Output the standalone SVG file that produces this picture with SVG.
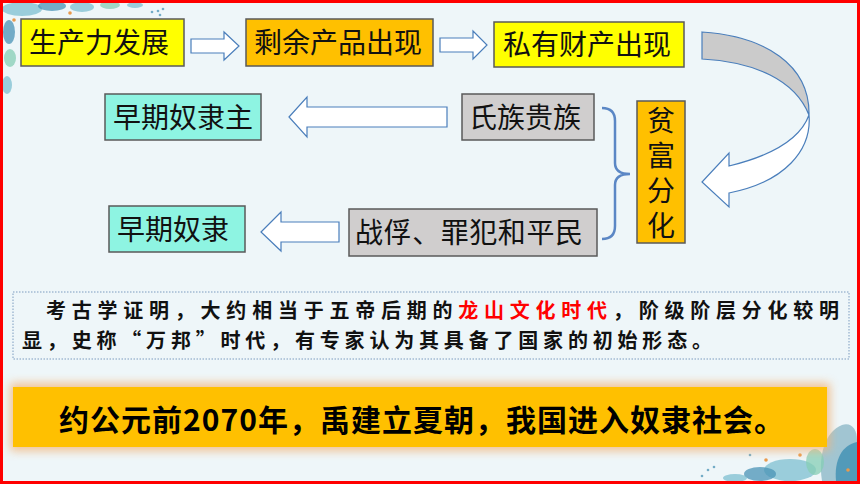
<svg xmlns="http://www.w3.org/2000/svg" width="860" height="484" viewBox="0 0 860 484">
<defs>
<style>
.box{stroke:#5a5a5a;stroke-width:1.5}
.yel{fill:#FFFF00}
.org{fill:#FFC000}
.gry{fill:#D0CECE}
.aqu{fill:#8EF4E2}
.t{font-family:"Noto Sans CJK SC","Noto Sans",sans-serif;font-size:28px;fill:#111}
.arr{fill:#FFFFFF;stroke:#4A7EBB;stroke-width:1.2;stroke-linejoin:miter}
.para{font-family:"Noto Sans CJK SC","Noto Sans",sans-serif;font-size:20px;font-weight:bold;fill:#111}
.leaf{fill:#7DBFD0;opacity:0.75}
.leaf2{fill:#4A93B5;opacity:0.75}
.leaf3{fill:#86CDB4;opacity:0.75}
.dot{fill:#E99A4C}
</style>
<filter id="glow" x="-10%" y="-50%" width="120%" height="200%">
<feGaussianBlur stdDeviation="5"/>
</filter>
</defs>
<rect x="0" y="0" width="860" height="484" fill="#EEF6F9"/>
<g id="decor">
<ellipse cx="22" cy="9" rx="20" ry="7" class="leaf"/>
<ellipse cx="52" cy="6" rx="14" ry="5" class="leaf2"/>
<ellipse cx="82" cy="7" rx="12" ry="5" class="leaf"/>
<ellipse cx="110" cy="5" rx="10" ry="4" class="leaf3"/>
<ellipse cx="135" cy="5" rx="8" ry="3" class="leaf"/>
<ellipse cx="9" cy="32" rx="6" ry="12" class="leaf2"/>
<ellipse cx="10" cy="58" rx="6" ry="9" class="leaf3"/>
<ellipse cx="7" cy="85" rx="5" ry="9" class="leaf"/>
<circle cx="152" cy="12" r="1.3" class="leaf2"/>
<circle cx="158" cy="11" r="1.3" class="leaf2"/>
<circle cx="163" cy="9" r="1.3" class="leaf2"/>
<circle cx="160" cy="15" r="1.3" class="leaf2"/>
<circle cx="14" cy="20" r="1.8" class="dot"/>
<circle cx="70" cy="13" r="1.8" class="dot"/>
<path d="M822,481 C818,455 825,432 842,425 C852,422 857,430 857,440 L857,481 Z" fill="#8DB9C8" opacity="0.8"/>
<path d="M836,481 C834,460 842,445 857,442 L857,481 Z" fill="#3F8FB3" opacity="0.8"/>
<ellipse cx="790" cy="470" rx="26" ry="11" class="leaf"/>
<ellipse cx="760" cy="474" rx="16" ry="7" class="leaf2"/>
<ellipse cx="815" cy="462" rx="9" ry="13" class="leaf3"/>
<ellipse cx="735" cy="478" rx="12" ry="4" class="leaf"/>
<circle cx="766" cy="460" r="1.8" class="dot"/>
<circle cx="800" cy="455" r="1.8" class="dot"/>
<circle cx="848" cy="470" r="1.8" class="dot"/>
<circle cx="708" cy="470" r="1.3" class="leaf2"/>
<circle cx="714" cy="467" r="1.3" class="leaf2"/>
<circle cx="702" cy="476" r="1.3" class="leaf2"/>
<circle cx="750" cy="455" r="1.3" class="leaf2"/>
</g>
<rect x="1.5" y="1.5" width="857" height="481" fill="none" stroke="#FF0000" stroke-width="3"/>
<g id="connectors">
<path class="arr" d="M191,39 L224,39 L224,32 L239,46 L224,60 L224,53 L191,53 Z"/>
<path class="arr" d="M440,38 L473,38 L473,31 L487,45 L473,59 L473,52 L440,52 Z"/>
<path d="M702,32 C765,36 810,65 809,115 C795,80 755,62 702,59 Z" fill="#CBCBCB" stroke="#4A7EBB" stroke-width="1.2"/>
<path class="arr" d="M809,115 C812,150 785,182 729,193 L729,207 L702,182 L729,153 L729,166 C770,156 800,140 809,115 Z"/>
<path class="arr" d="M289,117 L307,97 L307,107 L447,107 L447,127 L307,127 L307,137 Z"/>
<path class="arr" d="M261,232 L281,212 L281,222 L339,222 L339,242 L281,242 L281,251 Z"/>
<path d="M602,108 Q615,108 615,121 L615,163 Q615,174 630,174 Q615,174 615,185 L615,226 Q615,239 602,239" fill="none" stroke="#5B87C5" stroke-width="2.5"/>
</g>
<g id="n1"><rect class="box yel" x="21" y="19" width="163" height="47"/><text class="t" x="29" y="53">生产力发展</text></g>
<g id="n2"><rect class="box org" x="246" y="19" width="187" height="47"/><text class="t" x="254" y="53">剩余产品出现</text></g>
<g id="n3"><rect class="box yel" x="494" y="22" width="190" height="45"/><text class="t" x="503" y="55">私有财产出现</text></g>
<g id="n4"><rect class="box aqu" x="105" y="94" width="156" height="46"/><text class="t" x="113" y="128">早期奴隶主</text></g>
<g id="n5"><rect class="box gry" x="462" y="94" width="132" height="46"/><text class="t" x="469" y="128">氏族贵族</text></g>
<g id="n6"><rect class="box org" x="637" y="101" width="48" height="142"/>
<text class="t" x="661" y="106" writing-mode="vertical-rl" letter-spacing="7">贫富分化</text></g>
<g id="n7"><rect class="box aqu" x="109" y="206" width="136" height="46"/><text class="t" x="117" y="240">早期奴隶</text></g>
<g id="n8"><rect class="box gry" x="349" y="209" width="248" height="47"/><text class="t" x="355" y="243" textLength="228" lengthAdjust="spacing">战俘、罪犯和平民</text></g>
<g id="note">
<rect x="13" y="292" width="836" height="67" fill="none" stroke="#7D9CC0" stroke-width="1" stroke-dasharray="1.5,1.5"/>
<text class="para" x="46" y="318" textLength="793" lengthAdjust="spacing">考古学证明，大约相当于五帝后期的<tspan fill="#FF0000">龙山文化时代</tspan>，阶级阶层分化较明</text>
<text class="para" x="22" y="348" textLength="690" lengthAdjust="spacing">显，史称“万邦”时代，有专家认为其具备了国家的初始形态。</text>
</g>
<g id="banner">
<rect x="10" y="383" width="820" height="68" fill="#F2B57A" opacity="0.8" filter="url(#glow)"/>
<rect x="13" y="387" width="814" height="60" fill="#FFC000"/>
<text x="59" y="431" textLength="725" lengthAdjust="spacing" style="font-family:'Noto Sans CJK SC','Noto Sans',sans-serif;font-size:30px;font-weight:bold;fill:#000">约公元前2070年，禹建立夏朝，我国进入奴隶社会。</text>
</g>
</svg>
